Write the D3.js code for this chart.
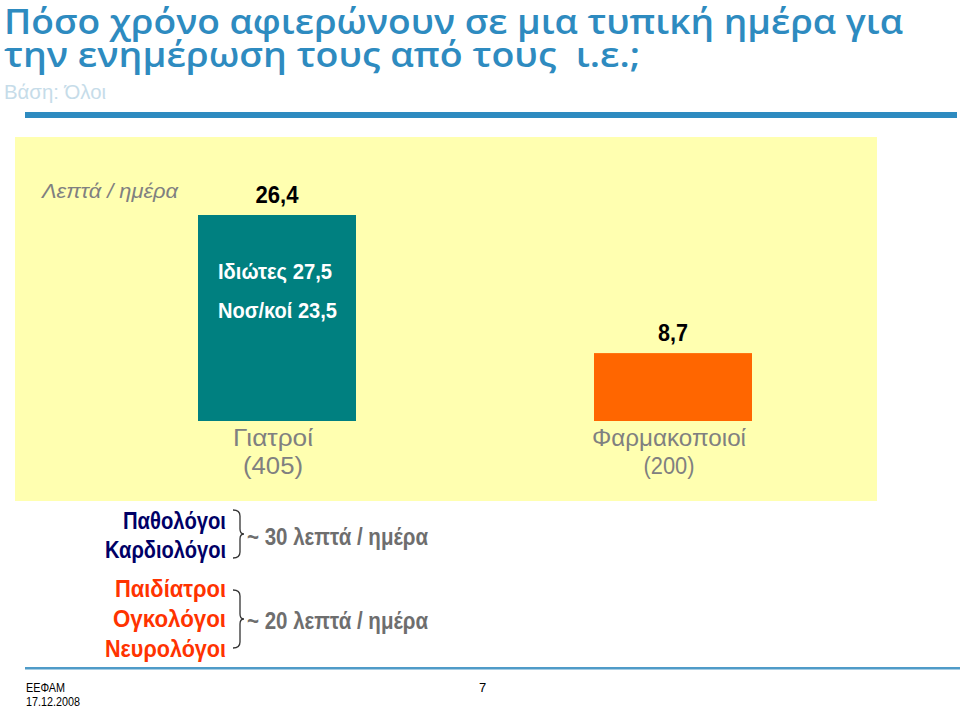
<!DOCTYPE html>
<html><head><meta charset="utf-8">
<script src="https://cdn.jsdelivr.net/npm/d3@7"></script>
<style>
html,body{margin:0;padding:0;background:#fff;}
svg{display:block;}
</style></head>
<body>
<svg id="c" width="960" height="708"></svg>
<script>
const categories = ["Γιατροί", "Φαρμακοποιοί"];
const sampleSizes = ["(405)", "(200)"];
const values = [26.4, 8.7];
const valueLabels = ["26,4", "8,7"];
const subLabels = ["Ιδιώτες 27,5", "Νοσ/κοί 23,5"];
const barColors = ["#008080", "#FF6600"];
const group30 = ["Παθολόγοι", "Καρδιολόγοι"];
const group20 = ["Παιδίατροι", "Ογκολόγοι", "Νευρολόγοι"];
const groupNotes = ["~ 30 λεπτά / ημέρα", "~ 20 λεπτά / ημέρα"];

const svg = d3.select("#c");
const SANS = "'Liberation Sans',Arial,sans-serif";
const TITLE = "'Open Sans','DejaVu Sans',Verdana,sans-serif";
const blue = "#2E8BC0";

function txt(parent, o) {
  const t = parent.append("text").attr("x", o.x).attr("y", o.y)
    .attr("font-family", o.family || SANS).attr("font-size", o.size)
    .attr("fill", o.fill || "#000").attr("xml:space", "preserve").text(o.text);
  if (o.weight) t.attr("font-weight", o.weight);
  if (o.style) t.attr("font-style", o.style);
  if (o.anchor) t.attr("text-anchor", o.anchor);
  if (o.len) t.attr("textLength", o.len).attr("lengthAdjust", "spacingAndGlyphs");
  return t;
}

// Title
txt(svg, {x: 4, y: 34, size: 34, family: TITLE, weight: 600, fill: blue, len: 899,
  text: "Πόσο χρόνο αφιερώνουν σε μια τυπική ημέρα για"});
txt(svg, {x: 4, y: 67, size: 34, family: TITLE, weight: 600, fill: blue, len: 636,
  text: "την ενημέρωση τους από τους  ι.ε.;"});
txt(svg, {x: 4, y: 99, size: 21, fill: "#C6DCE9", len: 102, text: "Βάση: Όλοι"});

// top rule
svg.append("rect").attr("x", 25).attr("y", 112).attr("width", 932).attr("height", 6).attr("fill", blue);

// panel
svg.append("rect").attr("x", 15).attr("y", 137).attr("width", 862).attr("height", 364).attr("fill", "#FFFFB0");

txt(svg, {x: 42, y: 198, size: 21, style: "italic", fill: "#808080", len: 136, text: "Λεπτά / ημέρα"});

// scales
const x = d3.scaleBand().domain(categories).range([79.2, 870.8]).paddingInner(0.601).paddingOuter(0.3);
const y = d3.scaleLinear().domain([0, 26.4]).range([421, 215]);

const valueLens = [43, 30];
const catLens = [80, 154];
const sizeLens = [60, 51];

const g = svg.append("g");
categories.forEach((c, i) => {
  const x0 = x(c), bw = x.bandwidth(), xc = x0 + bw / 2;
  g.append("rect").attr("x", x0).attr("y", y(values[i])).attr("width", bw)
    .attr("height", y(0) - y(values[i])).attr("fill", barColors[i]);
  txt(g, {x: xc, y: y(values[i]) - 12, size: 24, weight: "bold", anchor: "middle", len: valueLens[i], text: valueLabels[i]});
  txt(g, {x: xc - 4, y: 446, size: 23, anchor: "middle", fill: "#808080", len: catLens[i], text: c});
  txt(g, {x: xc - 4, y: 474, size: 23, anchor: "middle", fill: "#808080", len: sizeLens[i], text: sampleSizes[i]});
});
const subLens = [114, 119];
subLabels.forEach((s, j) => {
  txt(g, {x: x(categories[0]) + 20, y: 279 + j * 39, size: 22, weight: "bold", fill: "#fff", len: subLens[j], text: s});
});

// groups
function brace(bx, top, bot) {
  const mid = (top + bot) / 2, v = bx + 7;
  svg.append("path").attr("d",
    `M${bx},${top} Q${v},${top} ${v},${top+6} L${v},${mid-5} Q${v},${mid} ${v+4},${mid} ` +
    `Q${v},${mid} ${v},${mid+5} L${v},${bot-6} Q${v},${bot} ${bx},${bot}`)
    .attr("fill", "none").attr("stroke", "#333").attr("stroke-width", 1.3);
}
const lens30 = [103, 121];
const lens20 = [111, 113, 121];
group30.forEach((n, i) => txt(svg, {x: 226, y: 529 + i * 29, size: 23, weight: "bold", anchor: "end", fill: "#000066", len: lens30[i], text: n}));
group20.forEach((n, i) => txt(svg, {x: 226, y: 597 + i * 30, size: 23, weight: "bold", anchor: "end", fill: "#FF3300", len: lens20[i], text: n}));
brace(233, 510, 558);
brace(233, 590, 648);
txt(svg, {x: 247, y: 545, size: 23, weight: "bold", fill: "#6E6E6E", len: 181, text: groupNotes[0]});
txt(svg, {x: 247, y: 629, size: 23, weight: "bold", fill: "#6E6E6E", len: 181, text: groupNotes[1]});

// bottom rule
svg.append("rect").attr("x", 25).attr("y", 667).attr("width", 935).attr("height", 2.5).attr("fill", "#4F9BC8");

// footer
txt(svg, {x: 26, y: 692, size: 13, len: 39, text: "ΕΕΦΑΜ"});
txt(svg, {x: 26, y: 706, size: 13, len: 54, text: "17.12.2008"});
txt(svg, {x: 479, y: 692, size: 13, text: "7"});
</script>
</body></html>
